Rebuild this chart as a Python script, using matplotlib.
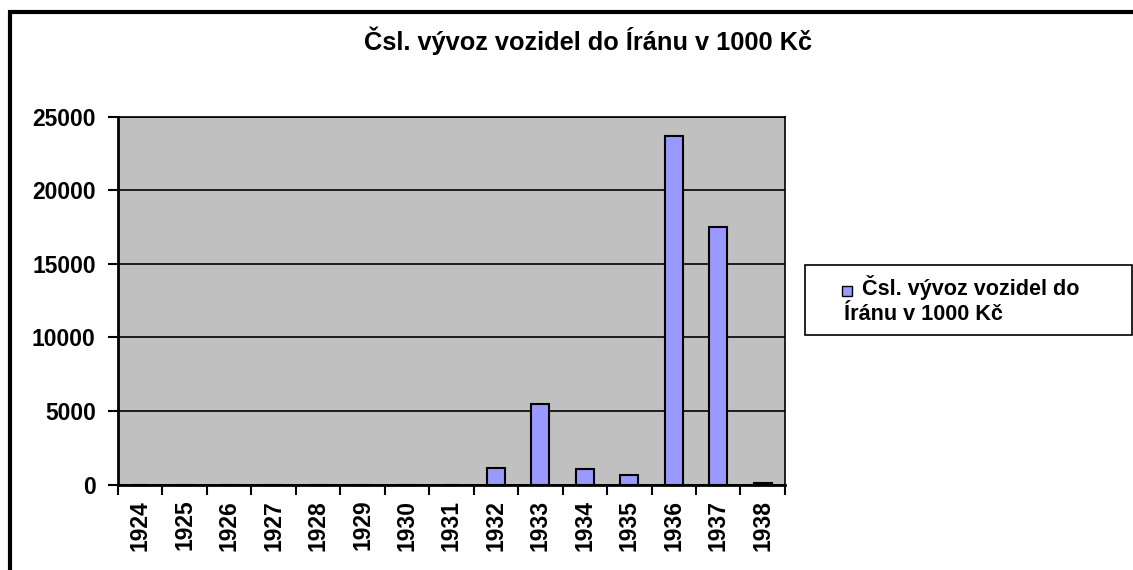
import numpy as np
import matplotlib.pyplot as plt
from matplotlib.patches import Rectangle

plt.rcParams['font.family'] = ['Liberation Sans', 'DejaVu Sans']
plt.rcParams['font.weight'] = 'bold'

# data
roky = ['1924', '1925', '1926', '1927', '1928', '1929', '1930', '1931',
        '1932', '1933', '1934', '1935', '1936', '1937', '1938']
vyvoz = [0, 0, 0, 0, 0, 0, 0, 0, 1140, 5450, 1030, 650, 23710, 17500, 130]
yticks = [0, 5000, 10000, 15000, 20000, 25000]
nazev = 'Čsl. vývoz vozidel do Íránu v 1000 Kč'
legenda = ['Čsl. vývoz vozidel do', 'Íránu v 1000 Kč']

barva = '#9999FF'
W, H = 1133, 570

fig = plt.figure(figsize=(11.33, 5.70), dpi=100)
ax = fig.add_axes([0.1041, 0.15, 0.5887, 0.6453])

x = np.arange(len(roky))
ax.bar(x, vyvoz, width=0.4, color=barva, edgecolor='black', linewidth=1.5,
       zorder=3)

ax.set_facecolor('#C0C0C0')
ax.set_xlim(-0.5, len(roky) - 0.5)
ax.set_ylim(0, 25000)
ax.set_yticks(yticks)
ax.set_yticklabels([str(v) for v in yticks], fontsize=16.5, fontweight='bold')
ax.yaxis.grid(True, color='black', linewidth=1.2, zorder=1)

# category boundaries get the tick marks, centres get the labels
ax.set_xticks(np.arange(len(roky) + 1) - 0.5)
ax.set_xticklabels([])
ax.set_xticks(x, minor=True)
ax.set_xticklabels(roky, minor=True, rotation=90, fontsize=16.5, fontweight='bold')
ax.tick_params(axis='x', which='minor', length=0, pad=11)
ax.tick_params(axis='x', which='major', direction='out', length=7, width=1.5)
ax.tick_params(axis='y', direction='out', length=7, width=1.5, pad=9)

for s in ['left', 'bottom']:
    ax.spines[s].set_linewidth(2)
for s in ['top', 'right']:
    ax.spines[s].set_linewidth(1.2)

fig.text(588 / W, 1 - 41 / H, nazev, ha='center', va='center',
         fontsize=18.3, fontweight='bold')

# legend, drawn by hand so the second line wraps under the key like in Excel
fig.patches.append(Rectangle((805 / W, 1 - 335 / H), 327 / W, 70 / H,
                             transform=fig.transFigure, facecolor='white',
                             edgecolor='black', linewidth=1.2))
fig.patches.append(Rectangle((842 / W, 1 - 296 / H), 10 / W, 10 / H,
                             transform=fig.transFigure, facecolor=barva,
                             edgecolor='black', linewidth=1))
fig.text(862 / W, 1 - 287 / H, legenda[0], ha='left', va='center',
         fontsize=15.6, fontweight='bold')
fig.text(844 / W, 1 - 315 / H, legenda[1], ha='left', va='center',
         fontsize=15.6, fontweight='bold')

# outer chart border (runs off the right and bottom edges)
fig.patches.append(Rectangle((10 / W, -0.1), 1.2, 1 - 12 / H + 0.1,
                             transform=fig.transFigure, fill=False,
                             edgecolor='black', linewidth=3))

fig.savefig('out.png', dpi=100)
